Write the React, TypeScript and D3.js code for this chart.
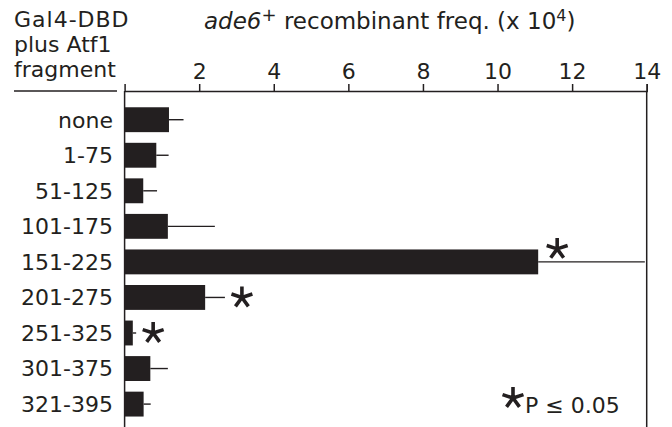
import React, { useEffect, useRef } from "react";
import * as d3 from "d3";

const fragments = ["none", "1-75", "51-125", "101-175", "151-225", "201-275", "251-325", "301-375", "321-395"];
const freq = [1.19, 0.85, 0.5, 1.16, 11.09, 2.16, 0.22, 0.69, 0.51];
const errors = [0.39, 0.33, 0.37, 1.26, 2.86, 0.53, 0.09, 0.47, 0.19];
// significant fragments (P <= 0.05)
const significant = ["151-225", "201-275", "251-325"];
const xTicks = [2, 4, 6, 8, 10, 12, 14];
const headerLines = ["Gal4-DBD", "plus Atf1", "fragment"];

const INK = "#231f20";
const FONT = "'DejaVu Sans', sans-serif";

// five-armed asterisk path centred on 0,0
const starPath = (r: number) => {
  let p = "";
  for (let i = 0; i < 5; i++) {
    const a = (-90 + i * 72) * (Math.PI / 180);
    p += `M0,0L${(r * Math.cos(a)).toFixed(2)},${(r * Math.sin(a)).toFixed(2)}`;
  }
  return p;
};

const App = () => {
  const chartRef = useRef<SVGSVGElement>(null);

  useEffect(() => {
    const width = 672;
    const height = 427;
    const axisY = 91;

    const data = fragments.map((f, i) => ({ name: f, value: freq[i], err: errors[i] }));

    const x = d3.scaleLinear().domain([0, 14]).range([124.6, 646.7]);
    const y = d3.scaleBand().domain(fragments).range([96.6, 427.2]).padding(0.3);

    const svg = d3.select(chartRef.current).attr("width", width).attr("height", height);
    svg.selectAll("*").remove();

    // header on the left
    svg
      .append("g")
      .selectAll("text")
      .data(headerLines)
      .enter()
      .append("text")
      .attr("x", 14)
      .attr("y", (d, i) => 27 + i * 25)
      .attr("fill", INK)
      .style("font-family", FONT)
      .style("font-size", "22px")
      .style("letter-spacing", (d, i) => (i === 0 ? "1px" : "0px"))
      .text((d) => d);

    svg
      .append("line")
      .attr("x1", 14)
      .attr("x2", 117)
      .attr("y1", axisY)
      .attr("y2", axisY)
      .attr("stroke", INK)
      .attr("stroke-width", 1.5);

    // axis title
    const title = svg
      .append("text")
      .attr("x", 204)
      .attr("y", 29)
      .attr("fill", INK)
      .style("font-family", FONT)
      .style("font-size", "23px");
    title.append("tspan").style("font-style", "italic").text("ade6");
    title.append("tspan").attr("dy", -8).style("font-size", "18px").text("+");
    title.append("tspan").attr("dy", 8).text(" recombinant freq. (x 10");
    title.append("tspan").attr("dy", -8).style("font-size", "16px").text("4");
    title.append("tspan").attr("dy", 8).text(")");

    // top axis
    const axis = svg
      .append("g")
      .attr("transform", `translate(0, ${axisY})`)
      .call(d3.axisTop(x).tickValues(xTicks).tickSize(7).tickSizeOuter(7).tickPadding(5));
    axis.selectAll("path, line").attr("stroke", INK).attr("stroke-width", 1.5);
    axis
      .selectAll("text")
      .attr("fill", INK)
      .style("font-family", FONT)
      .style("font-size", "22px");

    // vertical frame lines
    svg
      .selectAll(".frame")
      .data([0, 14])
      .enter()
      .append("line")
      .attr("class", "frame")
      .attr("x1", (d) => x(d))
      .attr("x2", (d) => x(d))
      .attr("y1", axisY)
      .attr("y2", height)
      .attr("stroke", INK)
      .attr("stroke-width", 1.5);

    // error bars
    svg
      .selectAll(".err")
      .data(data)
      .enter()
      .append("line")
      .attr("class", "err")
      .attr("x1", (d) => x(d.value))
      .attr("x2", (d) => x(d.value + d.err))
      .attr("y1", (d) => y(d.name)! + y.bandwidth() / 2)
      .attr("y2", (d) => y(d.name)! + y.bandwidth() / 2)
      .attr("stroke", INK)
      .attr("stroke-width", 1.4);

    // bars
    svg
      .selectAll(".bar")
      .data(data)
      .enter()
      .append("rect")
      .attr("class", "bar")
      .attr("x", x(0))
      .attr("y", (d) => y(d.name)!)
      .attr("width", (d) => x(d.value) - x(0))
      .attr("height", y.bandwidth())
      .attr("fill", INK);

    // category labels
    svg
      .selectAll(".cat")
      .data(data)
      .enter()
      .append("text")
      .attr("class", "cat")
      .attr("x", 113)
      .attr("y", (d) => y(d.name)! + y.bandwidth() / 2)
      .attr("dy", "0.36em")
      .attr("text-anchor", "end")
      .attr("fill", INK)
      .style("font-family", FONT)
      .style("font-size", "22px")
      .text((d) => d.name);

    // significance asterisks
    const sig = data.filter((d) => significant.includes(d.name));
    svg
      .selectAll(".star")
      .data(sig)
      .enter()
      .append("path")
      .attr("class", "star")
      .attr("transform", (d) => {
        const cy = y(d.name)! + y.bandwidth() / 2;
        // long error bar: star sits above the whisker next to the bar end
        if (d.err > 1.5) return `translate(${x(d.value) + 19}, ${cy - 13})`;
        return `translate(${x(d.value + d.err) + 17}, ${cy})`;
      })
      .attr("d", starPath(11))
      .attr("stroke", INK)
      .attr("stroke-width", 3.6)
      .attr("fill", "none");

    // legend
    svg
      .append("path")
      .attr("transform", "translate(513, 398)")
      .attr("d", starPath(11))
      .attr("stroke", INK)
      .attr("stroke-width", 3.6)
      .attr("fill", "none");
    svg
      .append("text")
      .attr("x", 525)
      .attr("y", 413)
      .attr("fill", INK)
      .style("font-family", FONT)
      .style("font-size", "22px")
      .text("P \u2264 0.05");
  }, []);

  return (
    <div style={{ position: "absolute", left: 0, top: 0 }}>
      <svg ref={chartRef} style={{ display: "block" }}></svg>
    </div>
  );
};

export default App;
